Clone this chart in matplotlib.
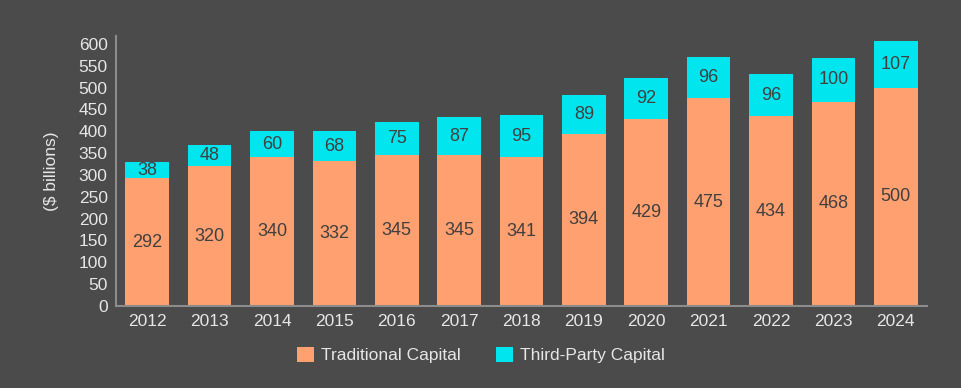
import numpy as np
import matplotlib.pyplot as plt

years = ['2012', '2013', '2014', '2015', '2016', '2017', '2018',
         '2019', '2020', '2021', '2022', '2023', '2024']
traditional = [292, 320, 340, 332, 345, 345, 341, 394, 429, 475, 434, 468, 500]
third_party = [38, 48, 60, 68, 75, 87, 95, 89, 92, 96, 96, 100, 107]

bg = '#4b4b4b'
orange = '#ffa070'
cyan = '#00e5ee'
light = '#e6e6e6'
dark = '#404040'

plt.rcParams['font.family'] = ['Liberation Sans', 'DejaVu Sans']

fig = plt.figure(figsize=(9.62, 3.88), dpi=100, facecolor=bg)
ax = fig.add_axes([0.1206, 0.2113, 0.843, 0.696])
ax.set_facecolor(bg)

x = np.arange(len(years))
b1 = ax.bar(x, traditional, width=0.7, color=orange, label='Traditional Capital')
b2 = ax.bar(x, third_party, width=0.7, bottom=traditional, color=cyan,
            label='Third-Party Capital')

for i in range(len(years)):
    ax.text(x[i], traditional[i] / 2, str(traditional[i]), ha='center', va='center',
            fontsize=13, color=dark)
    ax.text(x[i], traditional[i] + third_party[i] / 2, str(third_party[i]), ha='center',
            va='center', fontsize=13, color=dark)

ax.set_xlim(-0.5, len(years) - 0.5)
ax.set_ylim(0, 618)
ax.set_yticks(range(0, 601, 50))
ax.set_xticks(x)
ax.set_xticklabels(years)
ax.tick_params(colors=light, labelsize=12.5, length=0, pad=6)
ax.set_ylabel('($ billions)', color=light, fontsize=12.5, labelpad=14)

for s in ['top', 'right']:
    ax.spines[s].set_visible(False)
for s in ['left', 'bottom']:
    ax.spines[s].set_color('#8c8c8c')
    ax.spines[s].set_linewidth(1.5)

leg = fig.legend(handles=[b1, b2], loc='center', bbox_to_anchor=(0.5, 0.085), ncol=2,
                 frameon=False, fontsize=12.5, handlelength=1.0, handleheight=1.0,
                 columnspacing=2.0, handletextpad=0.4)
for t in leg.get_texts():
    t.set_color(light)

fig.savefig('out.png', dpi=100, facecolor=bg)
